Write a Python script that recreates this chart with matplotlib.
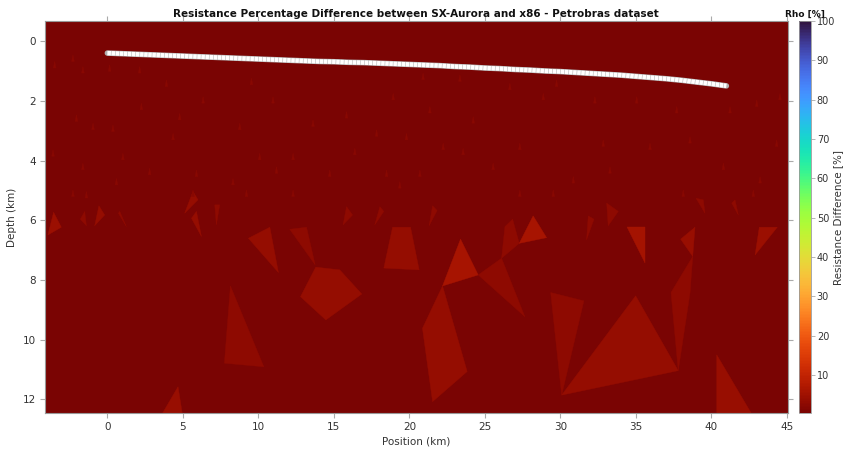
import numpy as np
import matplotlib
matplotlib.use('Agg')
import matplotlib.pyplot as plt
from matplotlib.collections import PolyCollection

# electrode line (position km, depth km)
elec_x = [0, 1, 2, 3, 4, 5, 6, 7, 8, 9, 10, 11, 12, 13, 14, 15, 16, 17, 18, 19, 20,
          21, 22, 23, 24, 25, 26, 27, 28, 29, 30, 31, 32, 33, 34, 35, 36, 37, 38, 39, 40, 41]
elec_z = [0.39, 0.41, 0.43, 0.45, 0.47, 0.49, 0.51, 0.53, 0.55, 0.57, 0.59, 0.61, 0.63,
          0.65, 0.67, 0.68, 0.70, 0.71, 0.73, 0.75, 0.77, 0.79, 0.81, 0.84, 0.86, 0.89,
          0.91, 0.94, 0.96, 0.99, 1.01, 1.04, 1.07, 1.10, 1.13, 1.17, 1.21, 1.25, 1.30,
          1.36, 1.42, 1.49]

# model domain and its background value
domain = [(-4.2, -0.8), (45.1, -0.8), (45.1, 12.6), (-4.2, 12.6)]
base_val = 0.5

# larger mesh cells with a higher difference (vertices in km), and their values
cells = [
    [(-3.94, 6.49), (-3.56, 5.73), (-3.05, 6.23)],
    [(9.34, 6.60), (10.76, 6.23), (11.33, 7.75)],
    [(12.08, 6.30), (13.19, 6.23), (13.76, 7.49)],
    [(12.79, 8.56), (13.80, 7.57), (15.39, 7.66), (16.85, 8.47), (14.47, 9.34)],
    [(18.31, 7.60), (18.89, 6.23), (20.08, 6.23), (20.65, 7.66)],
    [(7.75, 10.79), (8.15, 8.20), (10.36, 10.91)],
    [(3.50, 12.6), (4.68, 11.58), (5.00, 12.6)],
    [(22.20, 8.20), (23.39, 6.63), (24.56, 7.83)],
    [(24.56, 7.83), (26.11, 7.27), (27.65, 9.23)],
    [(26.11, 7.27), (26.33, 6.21), (26.84, 5.96), (27.28, 6.77)],
    [(27.28, 6.77), (28.20, 5.85), (29.09, 6.58)],
    [(20.87, 9.62), (22.20, 8.20), (23.83, 11.07), (21.54, 12.08)],
    [(29.36, 8.42), (31.56, 8.70), (30.09, 11.86)],
    [(30.09, 11.86), (34.99, 8.53), (37.81, 11.04)],
    [(37.33, 8.42), (38.77, 7.21), (38.59, 8.44), (37.81, 11.04)],
    [(37.97, 6.63), (38.92, 6.23), (38.77, 7.21)],
    [(34.39, 6.23), (35.61, 6.23), (35.61, 7.42)],
    [(42.90, 7.16), (43.18, 6.23), (44.37, 6.23)],
    [(40.36, 10.51), (42.80, 12.6), (40.36, 12.6)],
    [(-0.84, 6.18), (-0.56, 5.51), (-0.18, 5.82)],
    [(0.73, 5.76), (0.82, 5.70), (1.26, 6.21)],
    [(-1.79, 5.96), (-1.50, 5.70), (-1.39, 6.18)],
    [(5.57, 5.93), (5.90, 5.70), (6.23, 6.54)],
    [(7.11, 5.48), (7.44, 5.48), (7.22, 6.15)],
    [(5.12, 5.76), (5.67, 5.03), (6.00, 5.31)],
    [(15.61, 6.15), (15.84, 5.54), (16.24, 5.82)],
    [(17.71, 6.15), (18.05, 5.54), (18.31, 5.70)],
    [(31.74, 6.65), (31.85, 5.85), (32.23, 5.96)],
    [(33.17, 6.18), (33.07, 5.42), (33.84, 5.70)],
    [(21.31, 6.18), (21.54, 5.51), (21.84, 5.67)],
    [(41.35, 5.42), (41.57, 5.31), (41.79, 5.82)],
    [(38.99, 5.26), (39.47, 5.31), (39.58, 5.76)],
]
cell_vals = [4.5, 3.5, 3.0, 3.5, 3.5, 3.0, 4.0, 6.0, 3.0, 3.0, 6.0, 3.5, 3.0,
             3.5, 3.0, 4.0, 5.5, 4.5, 4.0, 3.5, 3.0, 3.0, 3.5, 3.0, 3.5, 3.0,
             3.0, 3.0, 3.0, 3.0, 3.0, 3.0]

# small cells near the surface (centre position, depth)
small_x = [-3.49, -2.28, -1.62, 0.15, 2.14, 3.91, 6.34, -2.05, -0.95, 0.37, 2.25, 4.79,
           8.77, 9.54, 10.97, 13.62, 15.84, 17.83, -3.60, -1.62, 1.03, 4.35, 5.90, 8.32,
           10.09, 12.30, 14.73, 16.39, 18.49, 19.81, -2.28, -1.39, 5.67, 9.21, 12.30,
           19.37, 0.60, 2.80, 11.20, 18.93, 20.91, 23.35, 26.66, 29.75, 35.06, 44.55,
           21.36, 24.23, 28.87, 32.29, 37.71, 41.24, 43.01, 22.24, 27.32, 32.84, 35.94,
           38.59, 44.33, 20.70, 25.55, 30.86, 33.29, 40.80, 43.23, 27.32, 29.53, 38.14,
           42.78, 23.56]
small_z = [0.78, 0.56, 0.95, 0.89, 0.95, 1.40, 1.96, 2.57, 2.85, 2.91, 2.18, 2.52,
           2.85, 1.34, 1.96, 2.74, 2.46, 3.07, 3.74, 4.19, 3.86, 3.19, 4.42, 4.70,
           3.86, 3.86, 4.42, 3.69, 4.42, 3.19, 5.09, 5.14, 5.09, 5.09, 5.09,
           4.81, 4.70, 4.36, 4.31, 1.85, 1.17, 1.23, 1.51, 1.40, 1.96, 1.85,
           2.29, 2.63, 1.85, 1.96, 2.29, 2.29, 2.07, 3.52, 3.52, 3.41, 3.52,
           3.30, 3.41, 4.42, 4.19, 4.64, 4.31, 4.19, 4.64, 5.09, 5.09, 5.09,
           5.09, 3.69]
small_val = 2.2

vmin, vmax = 0.3, 100
cbar_ticks = [10, 20, 30, 40, 50, 60, 70, 80, 90, 100]

# build mesh polygons
polys = [domain] + cells
vals = [base_val] + cell_vals
hw, hh = 0.09, 0.11
for i in range(len(small_x)):
    x, z = small_x[i], small_z[i]
    polys.append([(x - hw, z + hh), (x + hw, z + hh), (x, z - hh)])
    vals.append(small_val)

fig = plt.figure(figsize=(8.43, 4.5), dpi=100)
ax = fig.add_axes([0.0534, 0.0816, 0.881, 0.872])
cax = fig.add_axes([0.948, 0.0816, 0.0135, 0.872])

pc = PolyCollection(polys, array=np.array(vals), cmap='turbo_r', edgecolors='face',
                    linewidths=0.3)
pc.set_clim(vmin, vmax)
ax.add_collection(pc)

# electrodes
ax.plot(elec_x, elec_z, color='#b0b0b0', lw=4.0, solid_capstyle='round', zorder=3)
ax.plot(elec_x, elec_z, color='white', lw=3.2, linestyle=(0, (0.8, 0.12)),
        solid_capstyle='butt', zorder=4)

ax.set_xlim(-4.13, 45.06)
ax.set_ylim(12.47, -0.69)
ax.set_xticks([0, 5, 10, 15, 20, 25, 30, 35, 40, 45])
ax.set_yticks([0, 2, 4, 6, 8, 10, 12])

txt = '#333333'
ax.tick_params(axis='both', which='both', direction='out', length=3.5, width=0.8,
               color='#aaaaaa', labelcolor=txt, labelsize=7.5,
               top=True, right=True, pad=3)
for s in ax.spines.values():
    s.set_color('#999999')
    s.set_linewidth(0.8)

ax.set_xlabel('Position (km)', fontsize=7.5, color=txt)
ax.xaxis.set_label_coords(0.5, -0.058)
ax.set_ylabel('Depth (km)', fontsize=7.5, color=txt, labelpad=4)
ax.set_title('Resistance Percentage Difference between SX-Aurora and x86 - Petrobras dataset',
             fontsize=7.5, fontweight='bold', color='#111111', pad=3)

cb = fig.colorbar(pc, cax=cax, ticks=cbar_ticks)
cb.outline.set_edgecolor('#999999')
cb.outline.set_linewidth(0.6)
cax.tick_params(direction='out', length=3, width=0.6, color='#aaaaaa',
                labelcolor=txt, labelsize=7, pad=1.5)
cb.set_label('Resistance Difference [%]', fontsize=7.5, color=txt)
cax.yaxis.set_label_coords(3.0, 0.5)
cax.set_title('Rho [%]', fontsize=6.5, fontweight='bold', color='#111111', pad=3)

fig.savefig('out.png', dpi=100)
